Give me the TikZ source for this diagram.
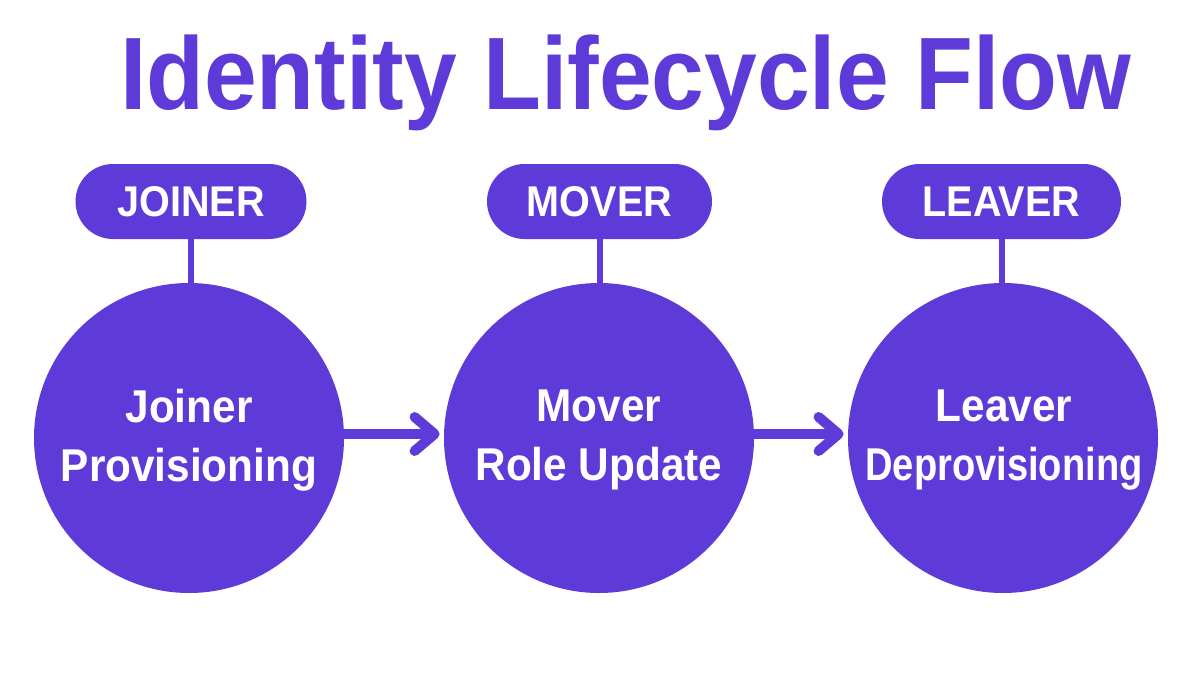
\documentclass[tikz,border=0pt]{standalone}
\usepackage{fontspec}
\setmainfont{Liberation Sans}[FakeStretch=0.92]
\usetikzlibrary{shapes.misc,arrows.meta}
\definecolor{brand}{HTML}{5E3BD9}
\tikzset{
  pill/.style={rounded rectangle, fill=brand, text=white, minimum height=37.5pt,
    font=\fontsize{21.5pt}{24pt}\selectfont\bfseries, inner sep=0pt},
  stage/.style={circle, fill=brand, minimum size=155pt, inner sep=0pt},
  stagetext/.style={text=white, inner sep=0pt,
    align=center, font=\fontsize{23pt}{29.5pt}\selectfont\bfseries},
  stem/.style={draw=brand, line width=3pt},
  flow/.style={draw=brand, line width=5pt,
    -{Straight Barb[round, length=10pt, width=17pt]}, shorten >=2pt}
}
\begin{document}
\begin{tikzpicture}[x=0.5pt, y=-0.5pt]
\useasboundingbox (0,0) rectangle (1200,675);
\fill[white] (0,0) rectangle (1200,675);
\node[anchor=base, text=brand, font=\fontsize{51.5pt}{60pt}\selectfont\bfseries, inner sep=0pt]
  (title) at (625.5,109) {Identity Lifecycle Flow};

\node[pill, minimum width=115.5pt] (p1) at (191,201.5) {JOINER};
\node[pill, minimum width=112.5pt] (p2) at (599.5,201.5) {MOVER};
\node[pill, minimum width=119.5pt] (p3) at (1001.5,201.5) {LEAVER};

\node[stage] (c1) at (189,438) {};
\node[stage] (c2) at (599,438) {};
\node[stage] (c3) at (1003,438) {};

\node[stagetext] (t1) at (189,440) {Joiner\\Provisioning};
\node[stagetext] (t2) at (599,440) {Mover\\Role Update};
\node[stagetext] (t3) at (1004,440) {Leaver\\\scalebox{0.9}[1]{Deprovisioning}};

\draw[stem] (p1.south) -- (p1.south |- c1.north);
\draw[stem] (p2.south) -- (p2.south |- c2.north);
\draw[stem] (p3.south) -- (p3.south |- c3.north);

\draw[flow] ([yshift=2pt]c1.east) -- ([yshift=2pt]c2.west);
\draw[flow] ([yshift=2pt]c2.east) -- ([yshift=2pt]c3.west);
\end{tikzpicture}
\end{document}
